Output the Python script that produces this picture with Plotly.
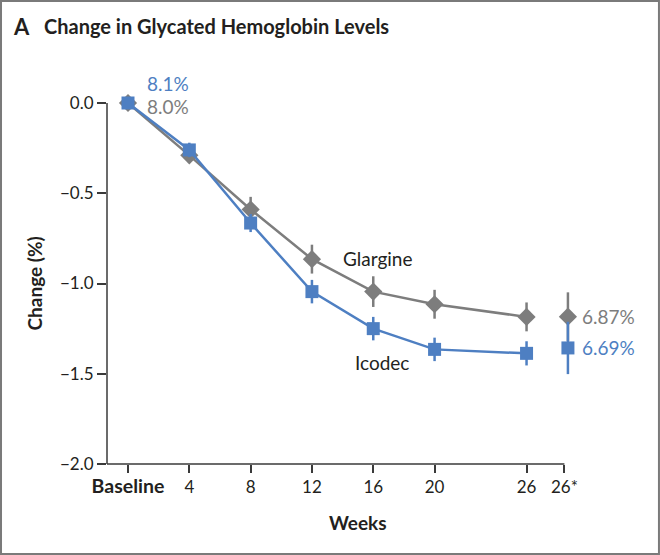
import plotly.graph_objects as go

weeks = [0, 4, 8, 12, 16, 20, 26]
glargine = [0.0, -0.29, -0.59, -0.865, -1.045, -1.115, -1.185]
glargine_err = [0.0, 0.04, 0.07, 0.08, 0.085, 0.08, 0.08]
icodec = [0.0, -0.26, -0.665, -1.045, -1.25, -1.365, -1.387]
icodec_err = [0.0, 0.04, 0.05, 0.065, 0.065, 0.065, 0.067]

adj_x = [28.7]
glargine_adj = [-1.184]
glargine_adj_err = [0.135]
icodec_adj = [-1.357]
icodec_adj_err = [0.145]

tick_vals = [0, 4, 8, 12, 16, 20, 26, 28.47]
tick_text = ["<b><span style='font-size:19.5px'>Baseline</span></b>",
             "4", "8", "12", "16", "20", "26", "26*"]
y_vals = [0, -0.5, -1.0, -1.5, -2.0]
y_text = ["0.0", "\u22120.5", "\u22121.0", "\u22121.5", "\u22122.0"]

GRAY = "#7d7d7d"
BLUE = "#4e7fc2"
TXT = "#231f20"
AX = "#3a3a3a"
FONT = "Lato"

X_MIN, X_MAX = -1.37, 28.9
PX_PER_WEEK = 15.33
L, T, B = 107, 103, 91
W = (X_MAX - X_MIN) * PX_PER_WEEK
R = 660 - L - W
H = 555 - T - B

fig = go.Figure()
fig.add_trace(go.Scatter(
    x=weeks, y=glargine, mode="lines+markers",
    line=dict(color=GRAY, width=2.5),
    marker=dict(symbol="diamond", size=14, color=GRAY),
    error_y=dict(type="data", array=glargine_err, color=GRAY, thickness=2.5, width=0),
    cliponaxis=False, showlegend=False))
fig.add_trace(go.Scatter(
    x=weeks, y=icodec, mode="lines+markers",
    line=dict(color=BLUE, width=2.5),
    marker=dict(symbol="square", size=13, color=BLUE),
    error_y=dict(type="data", array=icodec_err, color=BLUE, thickness=2.5, width=0),
    cliponaxis=False, showlegend=False))
fig.add_trace(go.Scatter(
    x=adj_x, y=glargine_adj, mode="markers",
    marker=dict(symbol="diamond", size=14, color=GRAY),
    error_y=dict(type="data", array=glargine_adj_err, color=GRAY, thickness=2.5, width=0),
    cliponaxis=False, showlegend=False))
fig.add_trace(go.Scatter(
    x=adj_x, y=icodec_adj, mode="markers",
    marker=dict(symbol="square", size=13, color=BLUE),
    error_y=dict(type="data", array=icodec_adj_err, color=BLUE, thickness=2.5, width=0),
    cliponaxis=False, showlegend=False))

ann = []
def lab(x, y, text, color, xanchor="left", xshift=0, yshift=0, size=19):
    ann.append(dict(x=x, y=y, xref="x", yref="y", text=text, showarrow=False,
                    xanchor=xanchor, yanchor="middle", xshift=xshift, yshift=yshift,
                    font=dict(family=FONT, size=size, color=color)))

lab(weeks[0], -0.02, "8.1%", BLUE, xshift=17, yshift=23)
lab(weeks[0], -0.02, "8.0%", GRAY, xshift=17)
lab(adj_x[0], glargine_adj[0], "6.87%", GRAY, xshift=12)
lab(adj_x[0], icodec_adj[0], "6.69%", BLUE, xshift=12)
lab(13.9, -0.86, "Glargine", TXT)
lab(14.7, -1.44, "Icodec", TXT)

ann.append(dict(x=(34 - L) / W, y=0.5, xref="paper", yref="paper", text="<b>Change (%)</b>",
                textangle=-90, showarrow=False, xanchor="center", yanchor="middle",
                font=dict(family=FONT, size=19, color=TXT)))
ann.append(dict(x=(358 - L) / W, y=-(522 - T - H) / H, xref="paper", yref="paper",
                text="<b>Weeks</b>", showarrow=False, xanchor="center", yanchor="middle",
                font=dict(family=FONT, size=19, color=TXT)))
ann.append(dict(x=(11 - L) / W, y=1 + (T - 26) / H, xref="paper", yref="paper",
                text="<b>A</b>", showarrow=False, xanchor="left", yanchor="middle",
                font=dict(family=FONT, size=22, color=TXT)))
ann.append(dict(x=(42 - L) / W, y=1 + (T - 26) / H, xref="paper", yref="paper",
                text="<b>Change in Glycated Hemoglobin Levels</b>",
                showarrow=False, xanchor="left", yanchor="middle",
                font=dict(family=FONT, size=20, color=TXT)))

fig.update_layout(
    width=660, height=555,
    margin=dict(l=L, r=R, t=T, b=B, pad=0),
    paper_bgcolor="white", plot_bgcolor="white",
    font=dict(family=FONT, size=17, color=TXT),
    annotations=ann,
    shapes=[
        dict(type="rect", xref="paper", yref="paper",
             x0=-L / W + 1 / W, x1=1 + R / W - 1 / W,
             y0=-B / H + 1 / H, y1=1 + T / H - 1 / H,
             line=dict(color="#7a7a7a", width=2)),
        dict(type="line", xref="paper", yref="paper",
             x0=0, x1=(28.47 - X_MIN) / (X_MAX - X_MIN), y0=0, y1=0,
             line=dict(color=AX, width=1.5)),
        dict(type="line", xref="paper", yref="paper",
             x0=0, x1=0, y0=0, y1=1,
             line=dict(color=AX, width=1.5)),
    ],
    xaxis=dict(range=[X_MIN, X_MAX], tickvals=tick_vals, ticktext=tick_text,
               showgrid=False, zeroline=False, showline=False,
               ticks="outside", ticklen=8, tickwidth=1.5,
               tickcolor=AX, tickfont=dict(family=FONT, size=17, color=TXT)),
    yaxis=dict(range=[-2.0, 0.0], tickvals=y_vals, ticktext=y_text,
               showgrid=False, zeroline=False, showline=False,
               ticks="outside", ticklen=9, tickwidth=1.5,
               tickcolor=AX, tickfont=dict(family=FONT, size=17, color=TXT)),
)

fig.write_html("out.html", config={"displayModeBar": False},
               post_script="document.body.style.margin='0';")
